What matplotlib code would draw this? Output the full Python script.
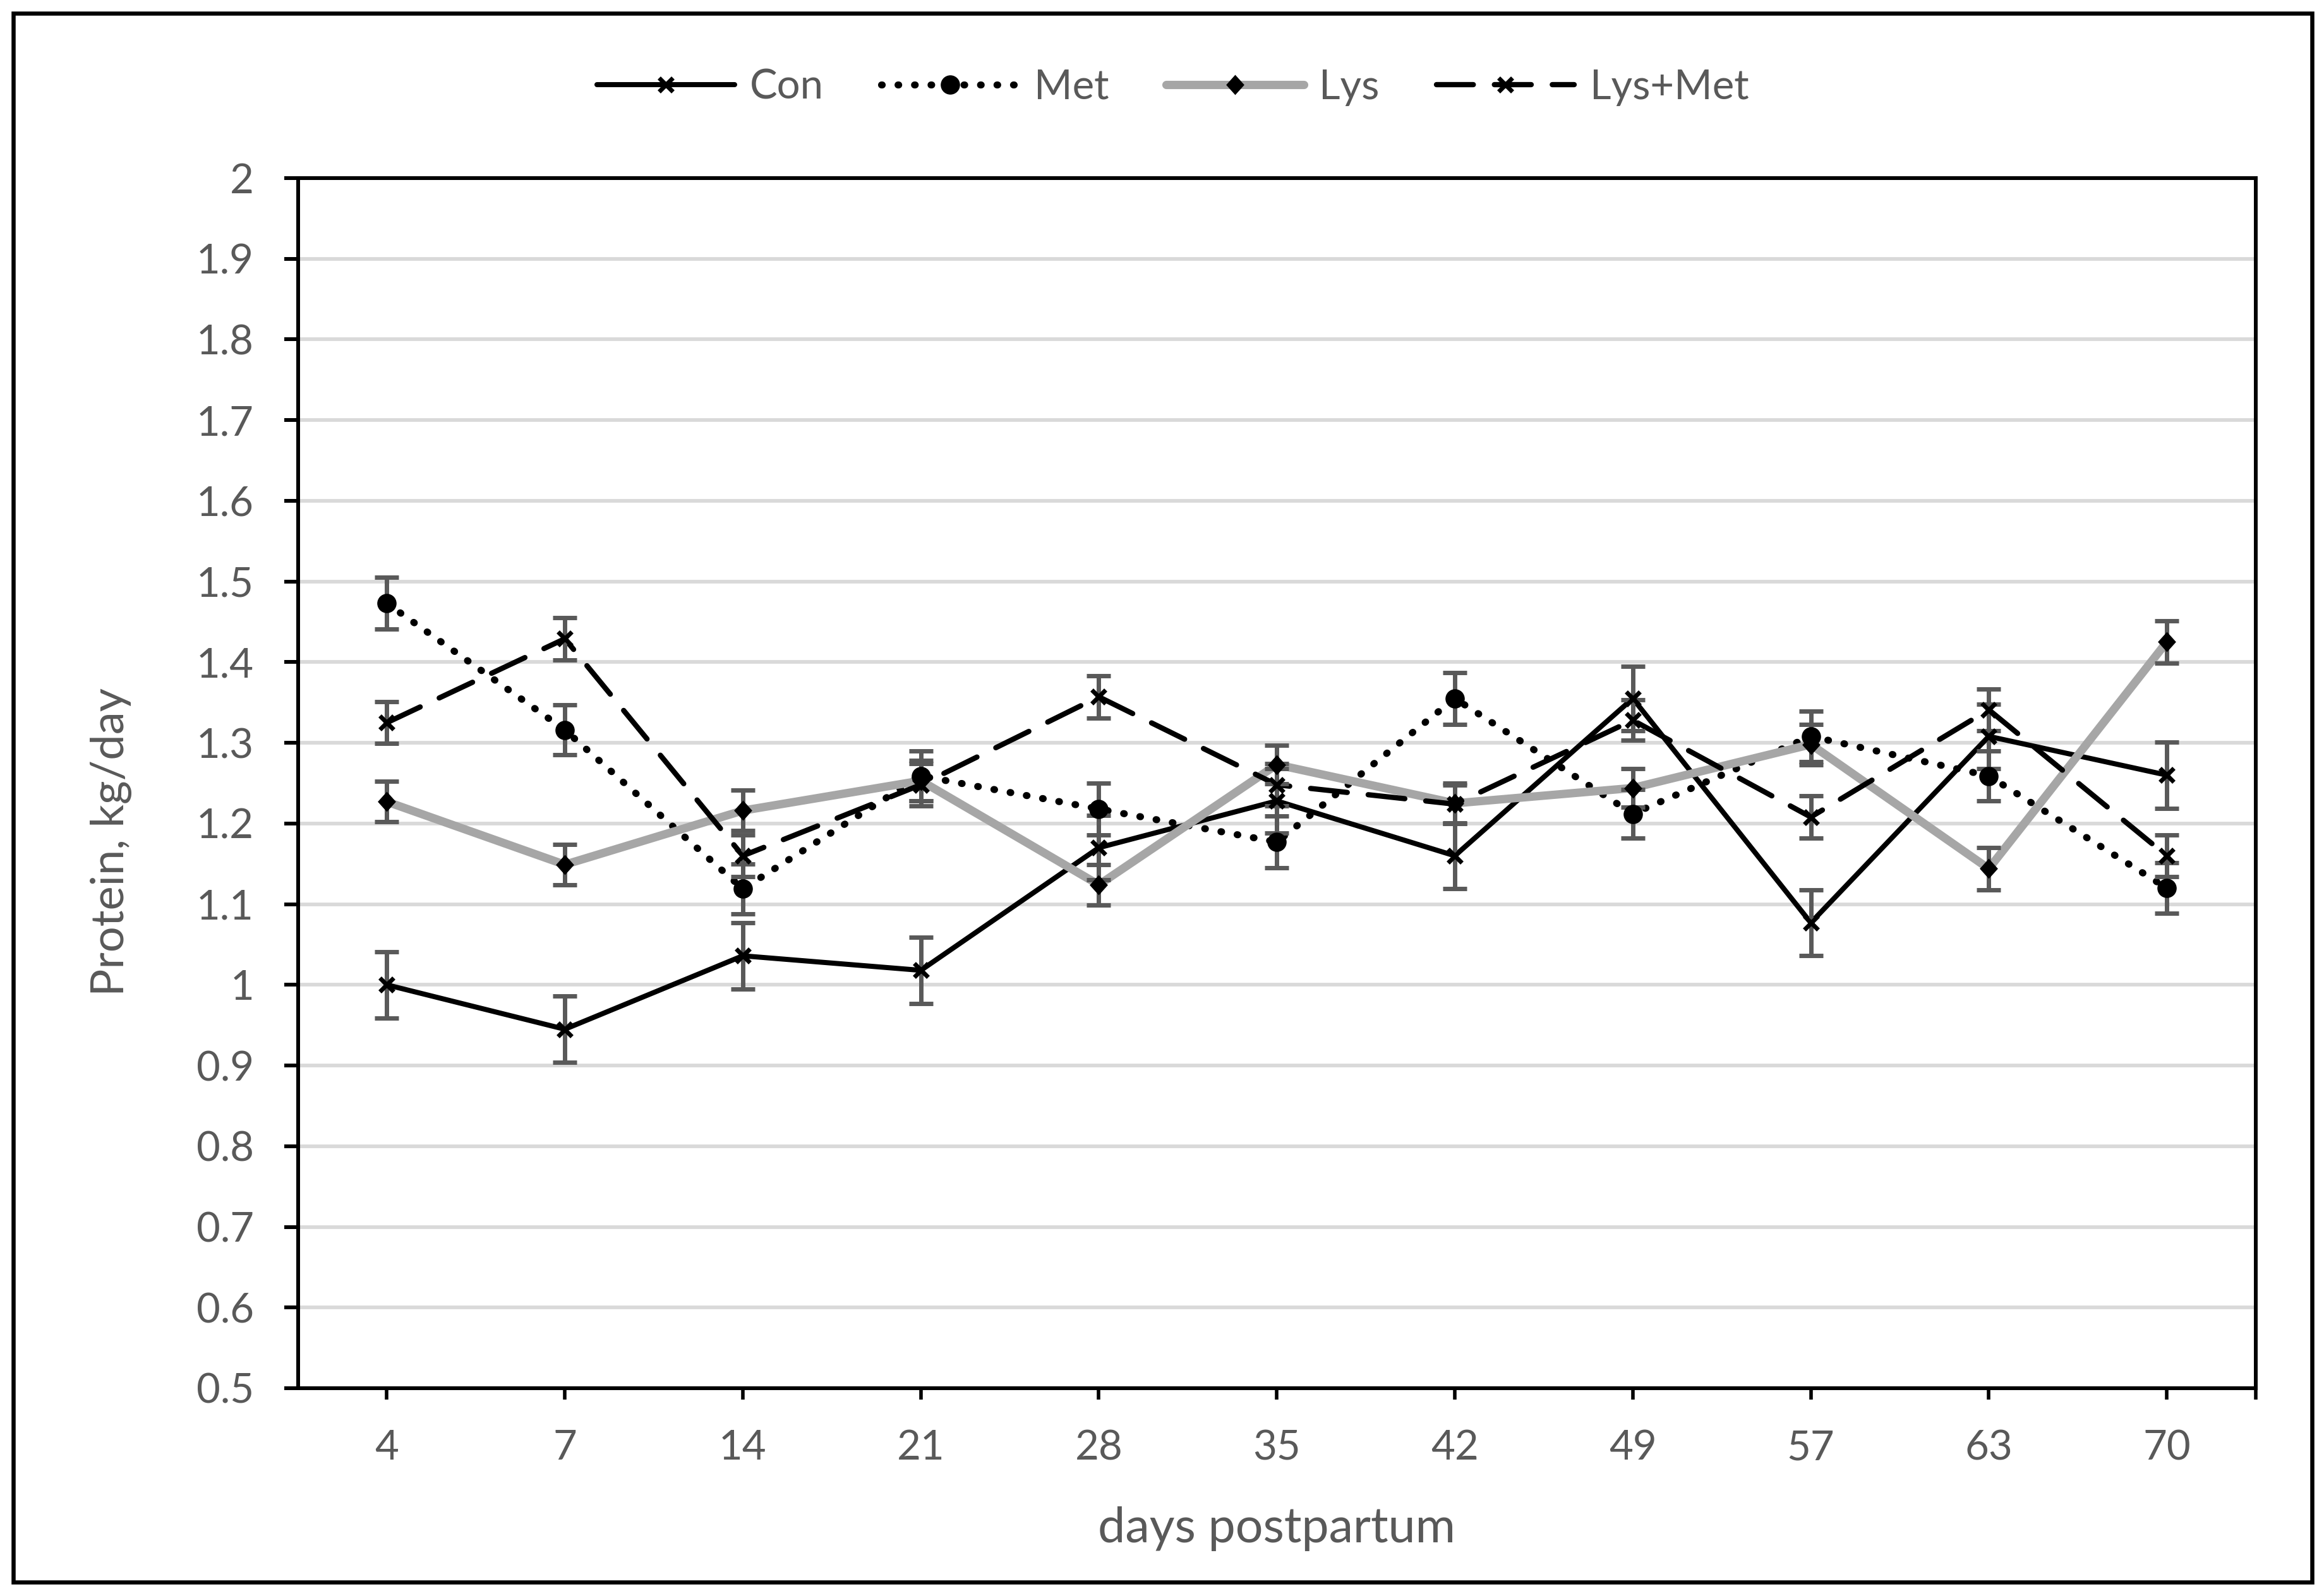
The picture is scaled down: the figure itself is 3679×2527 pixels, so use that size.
import matplotlib
matplotlib.use("Agg")
import matplotlib.pyplot as plt
from matplotlib.patches import Rectangle
from matplotlib.lines import Line2D
from matplotlib.path import Path
import numpy as np

plt.rcParams['font.family'] = ['Lato', 'DejaVu Sans']

# ---- data ----
days = ["4", "7", "14", "21", "28", "35", "42", "49", "57", "63", "70"]
con = [1.000, 0.945, 1.036, 1.018, 1.170, 1.228, 1.160, 1.355, 1.077, 1.308, 1.260]
con_err = [0.041, 0.041, 0.041, 0.041, 0.040, 0.040, 0.041, 0.040, 0.041, 0.040, 0.041]
met = [1.473, 1.316, 1.119, 1.259, 1.218, 1.177, 1.355, 1.212, 1.308, 1.259, 1.120]
met_err = [0.032, 0.031, 0.031, 0.031, 0.032, 0.032, 0.032, 0.030, 0.031, 0.031, 0.031]
lys = [1.227, 1.149, 1.216, 1.253, 1.124, 1.273, 1.225, 1.244, 1.298, 1.144, 1.425]
lys_err = [0.025, 0.025, 0.025, 0.025, 0.025, 0.024, 0.025, 0.024, 0.025, 0.026, 0.026]
lysmet = [1.325, 1.429, 1.160, 1.248, 1.357, 1.248, 1.224, 1.328, 1.208, 1.341, 1.160]
lysmet_err = [0.026, 0.026, 0.026, 0.026, 0.026, 0.026, 0.024, 0.025, 0.026, 0.026, 0.026]
series_names = ["Con", "Met", "Lys", "Lys+Met"]

TXT = '#595959'
W, H = 3679, 2527
fig = plt.figure(figsize=(W / 100, H / 100), dpi=100)
ax = fig.add_axes([471.5 / W, 1 - 2198 / H, (3571 - 471.5) / W, (2198 - 282) / H])

x = np.arange(len(days))

diamond = Path([(0, 1), (0.9, 0), (0, -1), (-0.9, 0), (0, 1)],
               [Path.MOVETO, Path.LINETO, Path.LINETO, Path.LINETO, Path.CLOSEPOLY])

styles = {
    "Con": dict(color='black', lw=5.8, ls='-', marker='x', ms=16, mew=5),
    "Met": dict(color='black', lw=8, ls=(0, (0.1, 2.25)), marker='o', ms=22, mew=0),
    "Lys": dict(color='#a6a6a6', lw=9.5, ls='-', marker=diamond, ms=23, mew=0),
    "Lys+Met": dict(color='black', lw=6, ls=(0, (7, 4)), marker='x', ms=16, mew=5),
}
data = {"Con": (con, con_err), "Met": (met, met_err), "Lys": (lys, lys_err),
        "Lys+Met": (lysmet, lysmet_err)}

handles = []
for name in series_names:
    y, e = data[name]
    st = styles[name]
    ax.plot(x, y, color=st['color'], lw=st['lw'], ls=st['ls'], zorder=3,
            dash_capstyle='round', solid_capstyle='round')
    ax.errorbar(x, y, yerr=e, fmt='none', ecolor='#595959', elinewidth=5,
                capsize=14, capthick=5, zorder=4)
    ax.plot(x, y, ls='none', marker=st['marker'], ms=st['ms'], mew=st['mew'],
            mfc='black', mec='black', zorder=5)
    h = Line2D([], [], color=st['color'], lw=st['lw'], ls=st['ls'], marker=st['marker'],
               ms=st['ms'], mew=st['mew'], mfc='black', mec='black',
               dash_capstyle='round', solid_capstyle='round')
    handles.append(h)

ax.set_xlim(-0.5, len(days) - 0.5)
ax.set_ylim(0.5, 2.0)
yt = np.round(np.arange(0.5, 2.001, 0.1), 1)
ax.set_yticks(yt)
ax.set_yticklabels([f"{v:g}" for v in yt])
ax.set_xticks(list(x) + [len(days) - 0.5])
ax.set_xticklabels(days + [""])

ax.grid(axis='y', color='#d9d9d9', lw=4.2)
ax.set_axisbelow(True)
for s in ax.spines.values():
    s.set_color('black')
    s.set_linewidth(4.3)
ax.tick_params(axis='y', direction='out', length=16, width=4.3, color='black',
               labelsize=47, labelcolor=TXT, pad=34)
ax.tick_params(axis='x', direction='out', length=13, width=4.0, color='black',
               labelsize=47, labelcolor=TXT, pad=34)

fig.text(176 / W, 1 - 1333 / H, "Protein, kg/day", rotation=90, ha='center', va='center',
         fontsize=52, color=TXT)
fig.text(2021 / W, 1 - 2442 / H, "days postpartum", ha='center', va='baseline',
         fontsize=55.5, color=TXT)

leg = fig.legend(handles, series_names, loc='center', bbox_to_anchor=(0.5046, 1 - 138 / H),
                 ncol=4, frameon=False, fontsize=47, handlelength=3.34, handletextpad=0.37,
                 columnspacing=1.39, numpoints=1)
for t in leg.get_texts():
    t.set_color(TXT)

fig.patches.append(Rectangle((21 / W, 1 - 2505 / H), (3660 - 21) / W, (2505 - 21) / H,
                             transform=fig.transFigure, fill=False, lw=4.7, ec='black'))

fig.savefig("out.png", dpi=100, facecolor='white')
